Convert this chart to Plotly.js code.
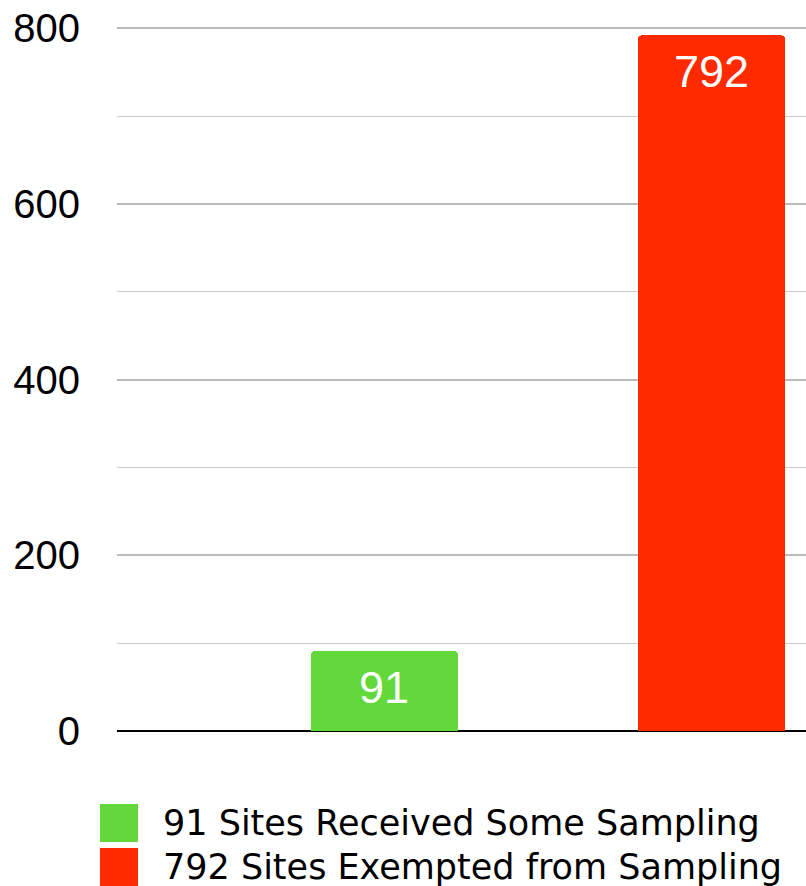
<!DOCTYPE html>
<html>
<head>
<meta charset="utf-8">
<script src="https://cdn.plot.ly/plotly-3.0.1.min.js"></script>
<style>
html,body{margin:0;padding:0;background:#fff;}
#chart{width:806px;height:886px;}
</style>
</head>
<body>
<div id="chart"></div>
<script>
const categories = ['Received Some Sampling', 'Exempted from Sampling'];
const values = [91, 792];
const colors = ['#63D83B', '#FF2A00'];
const legendLabels = ['91 Sites Received Some Sampling', '792 Sites Exempted from Sampling'];
const yTickVals = [0, 200, 400, 600, 800];
const yTickText = ['0', '200', '400', '600', '800'];

const FONT = 'Liberation Sans, Arial, Helvetica, sans-serif';

const trace = {
  type: 'bar',
  x: categories,
  y: values,
  width: 0.4495,
  marker: { color: colors, line: { width: 0 }, cornerradius: 4 },
  hoverinfo: 'none',
  showlegend: false
};

const annotations = values.map((v, i) => ({
  x: categories[i], y: v, xref: 'x', yref: 'y',
  text: String(v), showarrow: false,
  xanchor: 'center', yanchor: 'top', yshift: -9,
  font: { family: FONT, size: 45, color: '#ffffff' }
}));

// plot area: x 117..806, y 27..731
const shapes = [];
const legY = [[-0.1037, -0.1577], [-0.1662, -0.2202]];
const legTextY = [-0.1307, -0.1932];
legendLabels.forEach((lab, i) => {
  shapes.push({
    type: 'rect', xref: 'paper', yref: 'paper',
    x0: -0.0247, x1: 0.0305, y0: legY[i][0], y1: legY[i][1],
    fillcolor: colors[i], line: { width: 0 }
  });
  annotations.push({
    xref: 'paper', yref: 'paper', x: 0.064, y: legTextY[i],
    xanchor: 'left', yanchor: 'middle', showarrow: false,
    text: lab,
    font: { family: 'DejaVu Sans, sans-serif', size: 35, color: '#000000' }
  });
});

const layout = {
  width: 806, height: 886,
  margin: { l: 117, r: 0, t: 27, b: 155, pad: 0 },
  paper_bgcolor: '#ffffff', plot_bgcolor: '#ffffff',
  showlegend: false,
  xaxis: {
    type: 'category',
    range: [-0.818, 1.289],
    showticklabels: false, showgrid: false, zeroline: false,
    showline: false, ticks: '', fixedrange: true
  },
  yaxis: {
    range: [0, 801.5],
    tickvals: yTickVals, ticktext: yTickText,
    tickfont: { family: FONT, size: 40, color: '#000000' },
    ticks: '', ticklabelstandoff: 36,
    showgrid: true, gridcolor: '#bcbcbc', gridwidth: 2,
    minor: { dtick: 100, showgrid: true, gridcolor: '#cccccc', gridwidth: 1, ticks: '' },
    zeroline: true, zerolinecolor: '#000000', zerolinewidth: 2,
    showline: false, fixedrange: true
  },
  bargap: 0,
  shapes: shapes,
  annotations: annotations
};

Plotly.newPlot('chart', [trace], layout, { displayModeBar: false, staticPlot: true });
</script>
</body>
</html>
